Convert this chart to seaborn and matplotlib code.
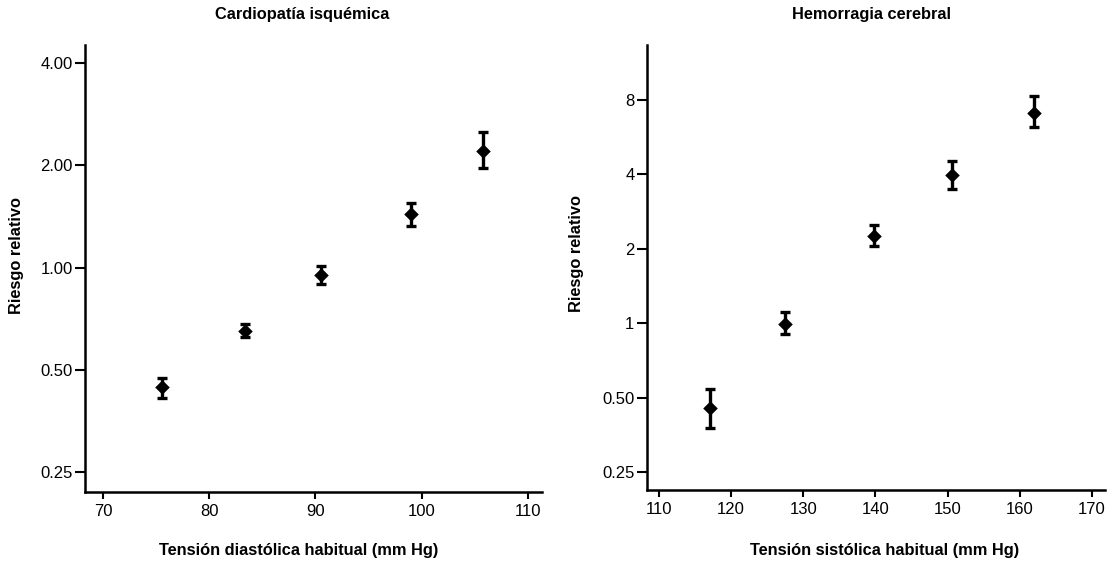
# Riesgo relativo vs tension arterial (two panels, log y)

import matplotlib
matplotlib.use("Agg")
import matplotlib.pyplot as plt
import matplotlib.ticker as mticker
import numpy as np
import pandas as pd
import seaborn as sns

# Cardiopatia isquemica
dbp = [75.6, 83.4, 90.5, 99.0, 105.8]
rr_chd = [0.444, 0.650, 0.953, 1.441, 2.213]
rr_chd_lo = [0.412, 0.624, 0.896, 1.329, 1.96]
rr_chd_hi = [0.473, 0.684, 1.008, 1.552, 2.51]

# Hemorragia cerebral
sbp = [117.1, 127.5, 139.8, 150.6, 161.9]
rr_stroke = [0.455, 0.994, 2.255, 3.98, 7.11]
rr_stroke_lo = [0.377, 0.910, 2.056, 3.48, 6.21]
rr_stroke_hi = [0.544, 1.115, 2.51, 4.53, 8.34]

left_yticks = [0.25, 0.5, 1, 2, 4]
left_ylabels = ["0.25", "0.50", "1.00", "2.00", "4.00"]
right_yticks = [0.25, 0.5, 1, 2, 4, 8]
right_ylabels = ["0.25", "0.50", "1", "2", "4", "8"]

sns.set_style("ticks")
plt.rcParams["font.family"] = ["Liberation Sans Narrow", "Liberation Sans", "DejaVu Sans"]
plt.rcParams["text.color"] = "black"
plt.rcParams["axes.labelcolor"] = "black"
label_font = ["Liberation Sans Narrow", "Liberation Sans", "DejaVu Sans"]

fig = plt.figure(figsize=(11.19, 5.64), dpi=100)
ax1 = fig.add_axes([85 / 1119, 72 / 564, 457 / 1119, 447 / 564])
ax2 = fig.add_axes([647 / 1119, 74 / 564, 458 / 1119, 445 / 564])


def draw_panel(ax, x, y, lo, hi, xlim, ylim, xticks, yticks, ylabels, xlabel):
    df = pd.DataFrame({"x": x, "y": y})
    err = [np.array(y) - np.array(lo), np.array(hi) - np.array(y)]
    ax.errorbar(x, y, yerr=err, fmt="none", ecolor="black", elinewidth=2.4,
                capsize=3.3, capthick=2.4)
    sns.scatterplot(data=df, x="x", y="y", marker="D", s=55, color="black",
                    edgecolor="black", linewidth=0, ax=ax, zorder=3)
    ax.set_yscale("log")
    ax.set_xlim(*xlim)
    ax.set_ylim(*ylim)
    ax.set_xticks(xticks)
    ax.set_yticks(yticks)
    ax.set_yticklabels(ylabels)
    ax.yaxis.set_minor_locator(mticker.NullLocator())
    ax.tick_params(axis="both", labelsize=12, width=1.5, color="black",
                   labelcolor="black", pad=2)
    ax.tick_params(axis="y", length=7)
    ax.tick_params(axis="x", length=5, pad=4)
    for side in ["left", "bottom"]:
        ax.spines[side].set_linewidth(1.8)
        ax.spines[side].set_color("black")
    sns.despine(ax=ax)
    ax.set_xlabel(xlabel, fontsize=11.8, fontweight="bold", family=label_font, color="black")
    ax.set_ylabel("Riesgo relativo", fontsize=11.8, fontweight="bold", family=label_font,
                  color="black")


draw_panel(ax1, dbp, rr_chd, rr_chd_lo, rr_chd_hi, (68.3, 111.35), (0.218, 4.53),
           [70, 80, 90, 100, 110], left_yticks, left_ylabels,
           "Tensión diastólica habitual (mm Hg)")
draw_panel(ax2, sbp, rr_stroke, rr_stroke_lo, rr_stroke_hi, (108.35, 171.8), (0.212, 13.35),
           [110, 120, 130, 140, 150, 160, 170], right_yticks, right_ylabels,
           "Tensión sistólica habitual (mm Hg)")

# label positions (axes fraction)
ax1.xaxis.set_label_coords((299 - 85) / 457, -(543 - 492) / 447)
ax1.yaxis.set_label_coords(-(85 - 24) / 457, (492 - 256) / 447)
ax2.xaxis.set_label_coords((885 - 647) / 458, -(543 - 490) / 445)
ax2.yaxis.set_label_coords(-(647 - 584) / 458, (490 - 254) / 445)

fig.text(302 / 1119, 1 - 15 / 564, "Cardiopatía isquémica", ha="center", va="center",
         fontsize=11.8, fontweight="bold", family=label_font, color="black")
fig.text(872 / 1119, 1 - 15 / 564, "Hemorragia cerebral", ha="center", va="center",
         fontsize=11.8, fontweight="bold", family=label_font, color="black")

fig.savefig("out.png", dpi=100)
